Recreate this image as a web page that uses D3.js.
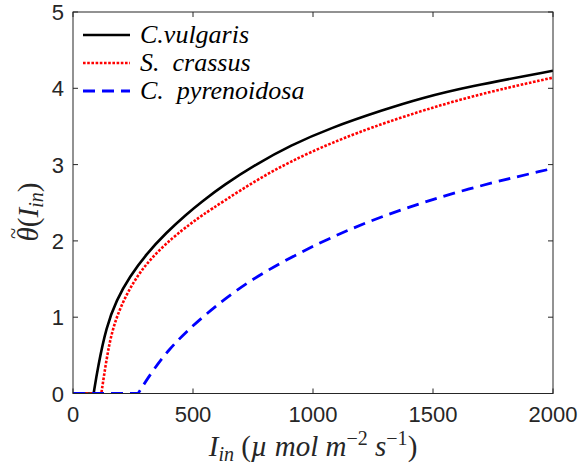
<!DOCTYPE html>
<html>
<head>
<meta charset="utf-8">
<script src="https://cdn.jsdelivr.net/npm/d3@7"></script>
<style>
  html, body { margin: 0; padding: 0; background: #fff; }
  svg { display: block; }
</style>
</head>
<body>
<svg id="chart" width="581" height="471"></svg>
<script>
// Irradiance (µmol m^-2 s^-1) and response θ̃ for each species
const vulgarisI   = [0, 86, 104, 139, 181, 236, 306, 389, 473, 535, 627, 766, 905, 1072, 1295, 1450, 1642, 2000];
const vulgarisVal = [0, 0, 0.35, 0.875, 1.225, 1.53, 1.83, 2.11, 2.35, 2.51, 2.73, 3.01, 3.25, 3.48, 3.72, 3.87, 4.02, 4.23];

const crassusI    = [0, 118, 139, 160, 195, 250, 320, 417, 488, 535, 627, 766, 905, 1072, 1295, 1642, 2000];
const crassusVal  = [0, 0, 0.44, 0.79, 1.12, 1.46, 1.76, 2.05, 2.22, 2.33, 2.52, 2.80, 3.04, 3.28, 3.55, 3.89, 4.14];

const pyrenoI     = [0, 271, 334, 403, 473, 535, 725, 1030, 1295, 1642, 2000];
const pyrenoVal   = [0, 0, 0.31, 0.59, 0.81, 0.99, 1.48, 1.99, 2.34, 2.69, 2.95];

const xTicks = [0, 500, 1000, 1500, 2000];
const yTicks = [0, 1, 2, 3, 4, 5];

const seriesNames = ["C.vulgaris", "S.  crassus", "C.  pyrenoidosa"];

const margin = { left: 73, right: 28, top: 12, bottom: 77.5 };
const W = 581, H = 471;
const axisColor = "#262626";

const svg = d3.select("#chart");
const x = d3.scaleLinear().domain([0, 2000]).range([margin.left, W - margin.right]);
const y = d3.scaleLinear().domain([0, 5]).range([H - margin.bottom, margin.top]);

const series = [
  { I: vulgarisI, v: vulgarisVal, color: "#000000", width: 2.6, dash: null },
  { I: crassusI,  v: crassusVal,  color: "#ff0000", width: 2.6, dash: "2.6,1.6" },
  { I: pyrenoI,   v: pyrenoVal,   color: "#0000ff", width: 2.8, dash: "12,7" }
];

// Clip curves to the plot box
svg.append("clipPath").attr("id", "plotclip")
  .append("rect")
  .attr("x", x(0)).attr("y", y(5))
  .attr("width", x(2000) - x(0)).attr("height", y(0) - y(5));

// Flat part at zero is straight; the rising part is smoothed
const flat = d3.line().x(d => x(d[0])).y(d => y(d[1]));
const rise = d3.line().x(d => x(d[0])).y(d => y(d[1])).curve(d3.curveBasis);

const g = svg.append("g").attr("clip-path", "url(#plotclip)");
series.forEach(s => {
  const pts = s.I.map((I, i) => [I, s.v[i]]);
  const flatPts = pts.slice(0, 2);
  const risePts = pts.slice(1);
  const pathStr = flat(flatPts) + rise(risePts).replace(/^M/, "L");
  g.append("path")
    .attr("d", pathStr)
    .attr("fill", "none")
    .attr("stroke", s.color)
    .attr("stroke-width", s.width)
    .attr("stroke-dasharray", s.dash)
    .attr("stroke-linejoin", "round");
});

// Axes box with inward ticks on all sides
const tickLen = 5;
const axes = svg.append("g").attr("stroke", axisColor).attr("stroke-width", 1).attr("fill", "none");
axes.append("rect")
  .attr("x", x(0)).attr("y", y(5))
  .attr("width", x(2000) - x(0)).attr("height", y(0) - y(5));

xTicks.forEach(t => {
  axes.append("line").attr("x1", x(t)).attr("x2", x(t)).attr("y1", y(0)).attr("y2", y(0) - tickLen);
  axes.append("line").attr("x1", x(t)).attr("x2", x(t)).attr("y1", y(5)).attr("y2", y(5) + tickLen);
});
yTicks.forEach(t => {
  axes.append("line").attr("x1", x(0)).attr("x2", x(0) + tickLen).attr("y1", y(t)).attr("y2", y(t));
  axes.append("line").attr("x1", x(2000)).attr("x2", x(2000) - tickLen).attr("y1", y(t)).attr("y2", y(t));
});

const tickFont = "'Liberation Sans', Arial, Helvetica, sans-serif";
svg.append("g").selectAll("text").data(xTicks).join("text")
  .attr("x", d => x(d)).attr("y", y(0) + 28)
  .attr("text-anchor", "middle")
  .attr("font-family", tickFont).attr("font-size", 22)
  .attr("fill", axisColor)
  .text(d => d);

svg.append("g").selectAll("text").data(yTicks).join("text")
  .attr("x", x(0) - 9).attr("y", d => y(d) + 8)
  .attr("text-anchor", "end")
  .attr("font-family", tickFont).attr("font-size", 22)
  .attr("fill", axisColor)
  .text(d => d);

const mathFont = "'Liberation Serif', 'Times New Roman', serif";

// x-axis label: I_in (µ mol m^-2 s^-1)
const xl = svg.append("text")
  .attr("x", (x(0) + x(2000)) / 2).attr("y", 456)
  .attr("text-anchor", "middle")
  .attr("font-family", mathFont).attr("font-size", 29)
  .attr("fill", axisColor);
xl.append("tspan").attr("font-style", "italic").text("I");
xl.append("tspan").attr("font-style", "italic").attr("font-size", 20).attr("dy", 5).text("in");
xl.append("tspan").attr("dy", -5).text(" (");
xl.append("tspan").attr("font-style", "italic").text("µ mol m");
xl.append("tspan").attr("font-size", 20).attr("dy", -11).text("−2");
xl.append("tspan").attr("font-style", "italic").attr("dy", 11).text(" s");
xl.append("tspan").attr("font-size", 20).attr("dy", -11).text("−1");
xl.append("tspan").attr("dy", 11).text(")");

// y-axis label: θ̃(I_in), tilde placed over the theta
const ylg = svg.append("g").attr("transform", "translate(38, 212) rotate(-90)");
const yl = ylg.append("text")
  .attr("text-anchor", "middle")
  .attr("font-family", mathFont).attr("font-size", 29)
  .attr("fill", axisColor);
const theta = yl.append("tspan").attr("font-style", "italic").text("θ");
yl.append("tspan").text("(");
yl.append("tspan").attr("font-style", "italic").text("I");
yl.append("tspan").attr("font-style", "italic").attr("font-size", 20).attr("dy", 5).text("in");
yl.append("tspan").attr("dy", -5).text(")");
const tb = theta.node().getExtentOfChar(0);
ylg.append("text")
  .attr("x", tb.x + tb.width / 2 + 1).attr("y", -18)
  .attr("text-anchor", "middle")
  .attr("font-family", mathFont).attr("font-size", 20)
  .attr("fill", axisColor)
  .text("~");

// Legend
const legY = [35, 63, 91];
const leg = svg.append("g");
series.forEach((s, i) => {
  leg.append("line")
    .attr("x1", 83).attr("x2", 130)
    .attr("y1", legY[i]).attr("y2", legY[i])
    .attr("stroke", s.color).attr("stroke-width", s.width)
    .attr("stroke-dasharray", s.dash);
  leg.append("text")
    .attr("x", 140).attr("y", legY[i] + 8)
    .attr("font-family", mathFont).attr("font-size", 26)
    .attr("font-style", "italic")
    .attr("fill", "#000")
    .style("white-space", "pre")
    .text(seriesNames[i]);
});
</script>
</body>
</html>
